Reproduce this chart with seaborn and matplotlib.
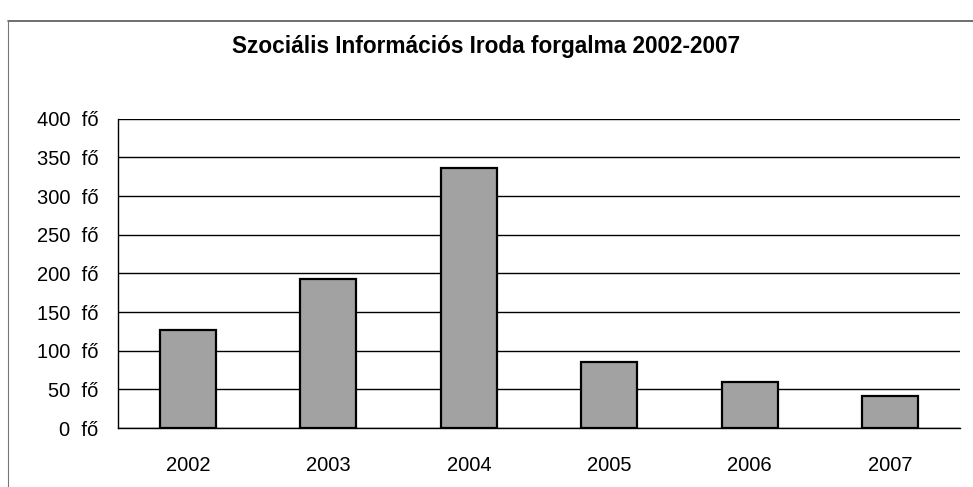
import pandas as pd
import matplotlib.pyplot as plt
import seaborn as sns
from matplotlib.lines import Line2D
from matplotlib.ticker import FixedLocator

evek = ["2002", "2003", "2004", "2005", "2006", "2007"]
forgalom = [127, 193, 336, 85, 60, 42]
y_ertekek = [0, 50, 100, 150, 200, 250, 300, 350, 400]
y_cimkek = [f"{v}  fő" for v in y_ertekek]
cim = "Szociális Információs Iroda forgalma 2002-2007"

df = pd.DataFrame({"Év": evek, "Fő": forgalom})

sns.set_style("white")
plt.rcParams["font.family"] = ["Liberation Sans", "DejaVu Sans"]
plt.rcParams["text.color"] = "black"
plt.rcParams["xtick.color"] = "black"
plt.rcParams["ytick.color"] = "black"

fig = plt.figure(figsize=(9.73, 4.87), dpi=100)
ax = fig.add_axes([0.121, 0.121, 0.866, 0.635])

sns.barplot(data=df, x="Év", y="Fő", color="#a2a2a2", width=0.4,
            edgecolor="black", linewidth=1.6, saturation=1, ax=ax, zorder=3)

ax.set_ylim(0, 400)
ax.set_xlim(-0.5, len(evek) - 0.5)
ax.set_yticks(y_ertekek)
ax.set_yticklabels(y_cimkek, fontsize=14.5)
ax.tick_params(axis="x", labelsize=14.5, length=0, pad=20, labelcolor="black")
ax.tick_params(axis="y", length=6, width=1, color="black", direction="out", pad=8,
               labelcolor="black")
ax.xaxis.set_minor_locator(FixedLocator([i - 0.5 for i in range(len(evek) + 1)]))
ax.tick_params(axis="x", which="minor", length=5, width=1, color="black", direction="out")
ax.yaxis.grid(True, color="black", linewidth=1)
ax.set_axisbelow(True)
ax.set_xlabel("")
ax.set_ylabel("")

for s in ["top", "right"]:
    ax.spines[s].set_visible(False)
for s in ["left", "bottom"]:
    ax.spines[s].set_color("black")
    ax.spines[s].set_linewidth(1)

fig.text(0.5, 0.905, cim, ha="center", va="center", fontsize=16.3, fontweight="bold")

# keret a diagram körül
fig.add_artist(Line2D([0.008, 1.0], [0.957, 0.957], color="#555555", linewidth=1.2))
fig.add_artist(Line2D([0.008, 0.008], [0.0, 0.957], color="#777777", linewidth=0.8))

fig.savefig("out.png", dpi=100)
